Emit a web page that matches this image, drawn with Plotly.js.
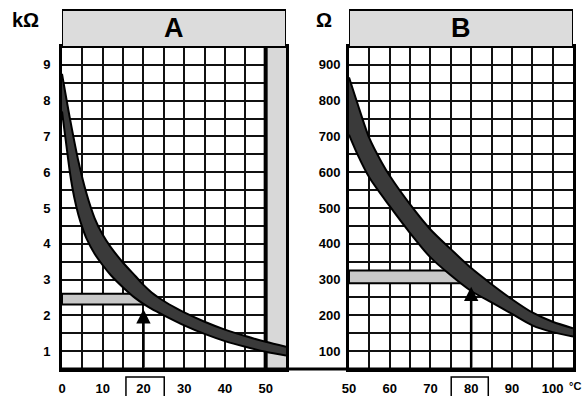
<!DOCTYPE html>
<html><head><meta charset="utf-8">
<script src="https://cdn.plot.ly/plotly-3.0.1.min.js"></script>
<style>html,body{margin:0;padding:0;background:#fff}</style>
</head><body><div id="chart" style="width:588px;height:396px"></div>
<script>
// Panel A (kΩ vs °C, 0..55)
const aXUpper = [0, 2, 4, 6, 8, 10, 12, 15, 18, 20, 22, 25, 28, 30, 35, 40, 45, 50, 55];
const aUpper  = [8.75, 7.47, 6.32, 5.41, 4.72, 4.25, 3.9, 3.47, 3.1, 2.85, 2.64, 2.4, 2.2, 2.08, 1.82, 1.6, 1.42, 1.26, 1.12];
const aXLower = [0, 1, 2, 3, 4, 5, 6, 8, 10, 12, 15, 18, 20, 22, 25, 30, 35, 40, 45, 50, 55];
const aLower  = [7.7, 6.82, 5.95, 5.3, 4.82, 4.45, 4.15, 3.72, 3.4, 3.12, 2.78, 2.48, 2.32, 2.18, 2.0, 1.72, 1.48, 1.28, 1.12, 0.98, 0.88];
// Panel B (Ω vs °C, 50..105)
const bXUpper = [50, 52, 55, 58, 60, 65, 70, 75, 80, 85, 90, 95, 100, 105];
const bUpper  = [865, 795, 695, 628, 590, 510, 440, 385, 332, 287, 245, 208, 182, 164];
const bXLower = [50, 52, 55, 60, 65, 70, 75, 80, 85, 90, 95, 100, 105];
const bLower  = [705, 652, 585, 505, 430, 362, 312, 268, 236, 204, 172, 153, 141];
// Reading markers
const aMark = {x: 20, yLow: 2.3, yHigh: 2.6, tip: 2.17};
const bMark = {x: 80, yLow: 290, yHigh: 325, tip: 280};
const aTickLabels = ['0', '10', '20', '30', '40', '50'];
const bTickLabels = ['50', '60', '70', '80', '90', '100'];

const FF = 'Liberation Sans, Arial, sans-serif';
const edge = {color: '#000', width: 2, shape: 'spline', smoothing: 0.8};
const bandFill = '#3a3a3a';

const traces = [
  {x: aXLower, y: aLower, mode: 'lines', line: edge, xaxis: 'x', yaxis: 'y', hoverinfo: 'skip'},
  {x: aXUpper, y: aUpper, mode: 'lines', line: edge, fill: 'tonexty', fillcolor: bandFill, xaxis: 'x', yaxis: 'y', hoverinfo: 'skip'},
  {x: bXLower, y: bLower, mode: 'lines', line: edge, xaxis: 'x2', yaxis: 'y2', hoverinfo: 'skip'},
  {x: bXUpper, y: bUpper, mode: 'lines', line: edge, fill: 'tonexty', fillcolor: bandFill, xaxis: 'x2', yaxis: 'y2', hoverinfo: 'skip'}
];

const tickfont = {family: FF, size: 13, color: '#000', weight: 'bold'};
const gridC = '#111';
function xax(domain, range, anchor, labels) {
  return {domain: domain, range: range, anchor: anchor, tickmode: 'array',
    tickvals: labels.map(Number), ticktext: labels,
    showgrid: true, gridcolor: gridC, gridwidth: 2,
    minor: {dtick: 5, tick0: 0, showgrid: true, gridcolor: gridC, gridwidth: 2},
    showline: true, mirror: true, linewidth: 3, linecolor: '#000',
    zeroline: false, ticks: '', tickfont: tickfont, ticklabelstandoff: 5, fixedrange: true};
}
function yax(range, anchor, dtick, standoff) {
  return {range: range, anchor: anchor, dtick: dtick, tick0: 0,
    showgrid: true, gridcolor: gridC, gridwidth: 2,
    minor: {dtick: dtick / 2, tick0: 0, showgrid: true, gridcolor: gridC, gridwidth: 2},
    showline: true, mirror: true, linewidth: 3, linecolor: '#000',
    zeroline: false, ticks: '', tickfont: tickfont, ticklabelstandoff: standoff, fixedrange: true};
}

const shapes = [
  // headers
  {type: 'rect', xref: 'x', yref: 'paper', x0: 0, x1: 55, y0: 1, y1: 1.115, fillcolor: '#dcdcdc', line: {color: '#000', width: 2}},
  {type: 'rect', xref: 'x2', yref: 'paper', x0: 50, x1: 105, y0: 1, y1: 1.115, fillcolor: '#dcdcdc', line: {color: '#000', width: 2}},
  // gray strip in A
  {type: 'rect', xref: 'x', yref: 'y', x0: 50, x1: 55, y0: 0.5, y1: 9.5, fillcolor: '#d8d8d8', line: {width: 0}, layer: 'between'},
  {type: 'line', xref: 'x', yref: 'y', x0: 50, x1: 50, y0: 0.5, y1: 9.5, line: {color: '#000', width: 4}, layer: 'between'},
  // tolerance bands
  {type: 'rect', xref: 'x', yref: 'y', x0: 0, x1: aMark.x, y0: aMark.yLow, y1: aMark.yHigh, fillcolor: '#c8c8c8', line: {color: '#000', width: 2}, layer: 'between'},
  {type: 'rect', xref: 'x2', yref: 'y2', x0: 50, x1: bMark.x, y0: bMark.yLow, y1: bMark.yHigh, fillcolor: '#c8c8c8', line: {color: '#000', width: 2}, layer: 'between'},
  // bottom baseline
  {type: 'line', xref: 'paper', yref: 'paper', x0: 0, x1: 1, y0: 0, y1: 0, line: {color: '#000', width: 3}},
  // boxes around reading tick labels
  {type: 'rect', xref: 'x', yref: 'paper', x0: 15.7, x1: 25.1, y0: -0.025, y1: -0.095, line: {color: '#000', width: 1.5}},
  {type: 'rect', xref: 'x2', yref: 'paper', x0: 75.1, x1: 84.2, y0: -0.025, y1: -0.095, line: {color: '#000', width: 1.5}}
];

const annotations = [
  {text: 'A', xref: 'x', yref: 'paper', x: 27.5, y: 1.0575, xanchor: 'center', yanchor: 'middle', showarrow: false, font: {family: FF, size: 27, color: '#000', weight: 'bold'}},
  {text: 'B', xref: 'x2', yref: 'paper', x: 77.5, y: 1.0575, xanchor: 'center', yanchor: 'middle', showarrow: false, font: {family: FF, size: 27, color: '#000', weight: 'bold'}},
  {text: 'kΩ', xref: 'paper', yref: 'paper', x: -0.0705, y: 1.084, xanchor: 'center', yanchor: 'middle', showarrow: false, font: {family: FF, size: 20, color: '#000', weight: 'bold'}},
  {text: 'Ω', xref: 'paper', yref: 'paper', x: 0.5127, y: 1.084, xanchor: 'center', yanchor: 'middle', showarrow: false, font: {family: FF, size: 20, color: '#000', weight: 'bold'}},
  {text: '°C', xref: 'paper', yref: 'paper', x: 1.003, y: -0.052, xanchor: 'center', yanchor: 'middle', showarrow: false, font: {family: FF, size: 11, color: '#000', weight: 'bold'}},
  {text: '', xref: 'x', yref: 'y', x: aMark.x, y: aMark.tip, axref: 'x', ayref: 'y', ax: aMark.x, ay: 0.5,
   showarrow: true, arrowhead: 2, arrowsize: 1.15, arrowwidth: 2.5, arrowcolor: '#000'},
  {text: '', xref: 'x2', yref: 'y2', x: bMark.x, y: bMark.tip, axref: 'x2', ayref: 'y2', ax: bMark.x, ay: 50,
   showarrow: true, arrowhead: 2, arrowsize: 1.15, arrowwidth: 2.5, arrowcolor: '#000'}
];

const layout = {
  width: 588, height: 396,
  margin: {l: 62, r: 15, t: 47, b: 27},
  paper_bgcolor: '#fff', plot_bgcolor: '#fff',
  showlegend: false,
  font: {family: FF, color: '#000'},
  xaxis: xax([0, 0.4384], [0, 55], 'y', aTickLabels),
  yaxis: yax([0.5, 9.5], 'x', 1, 6),
  xaxis2: xax([0.5616, 1], [50, 105], 'y2', bTickLabels),
  yaxis2: yax([50, 950], 'x2', 100, 3),
  shapes: shapes,
  annotations: annotations
};

Plotly.newPlot('chart', traces, layout, {displayModeBar: false, staticPlot: true});
</script>
</body></html>
